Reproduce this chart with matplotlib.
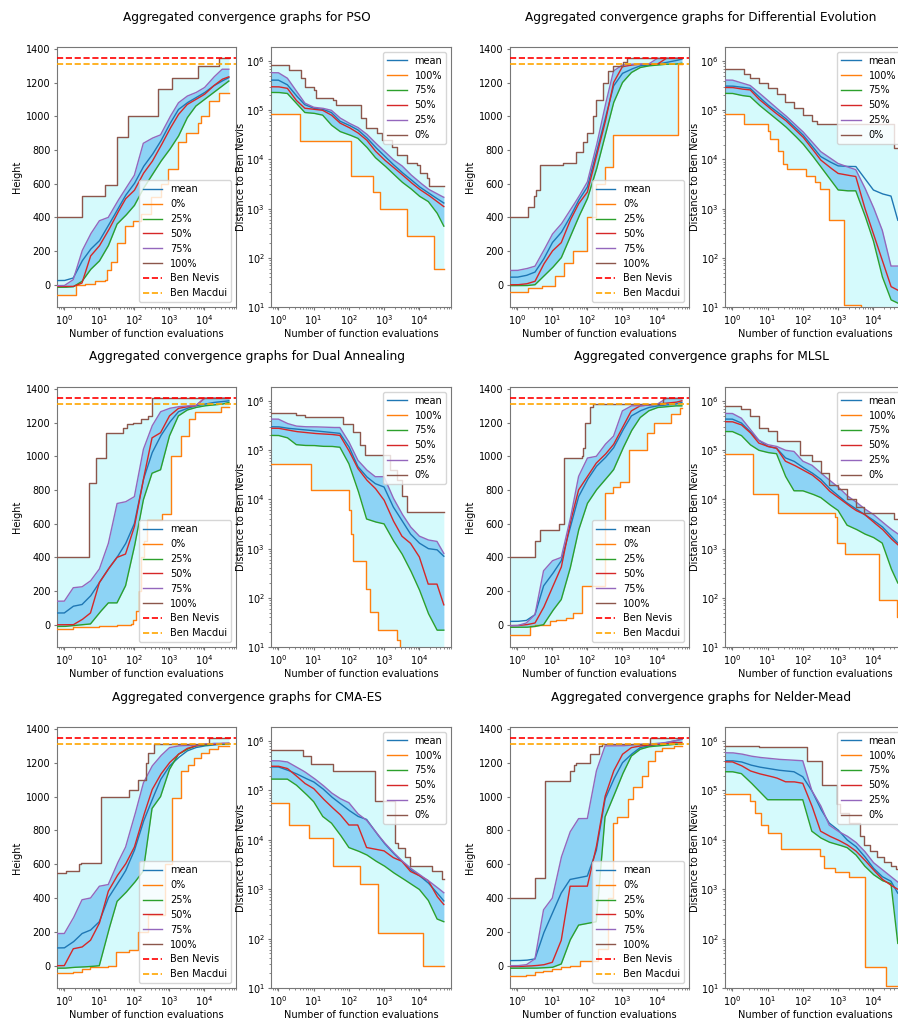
import numpy as np
import matplotlib
matplotlib.use("Agg")
import matplotlib.pyplot as plt

# ---------------------------------------------------------------- data
# common x grid (function evaluations) for the mean / inner-quantile curves
GRID = [0.6, 1, 1.8, 3.2, 5.6, 10, 18, 32, 56, 100, 180, 320, 560, 1000,
        1800, 3200, 5600, 10000, 18000, 32000, 50000]
X_END = 50000
BEN_NEVIS = 1345
BEN_MACDUI = 1309

ALGORITHMS = ["PSO", "Differential Evolution", "Dual Annealing", "MLSL",
              "CMA-ES", "Nelder-Mead"]
HEIGHT_LABELS = ["mean", "0%", "25%", "50%", "75%", "100%"]
DIST_LABELS = ["mean", "100%", "75%", "50%", "25%", "0%"]

# Extreme curves are step functions given as (x breakpoints, y values)
PSO_HEIGHT = {
    "mean": [25, 25, 40, 140, 210, 260, 350, 440, 530, 600, 700, 770, 850, 950, 1040, 1080, 1110, 1140, 1180, 1210, 1230],
    "25%": [-15, -15, -12, 20, 90, 140, 230, 360, 410, 470, 570, 650, 730, 800, 880, 990, 1060, 1100, 1140, 1180, 1210],
    "50%": [-10, -10, -10, 10, 170, 230, 320, 420, 510, 560, 660, 730, 820, 920, 1010, 1070, 1100, 1130, 1180, 1220, 1235],
    "75%": [-5, -5, 30, 200, 300, 380, 400, 490, 570, 650, 840, 870, 890, 990, 1080, 1120, 1140, 1170, 1230, 1280, 1280],
    "0%": ([0.6, 2.1, 4, 7.6, 15, 17, 22, 33, 54, 93, 155, 300, 570, 890, 1740, 2950, 6500, 8000, 14000, 27000],
           [-60, 0, 5, 25, 30, 90, 135, 250, 350, 380, 420, 520, 600, 690, 850, 900, 960, 1000, 1090, 1140]),
    "100%": ([0.6, 3.2, 15, 32, 65, 490, 1230, 6500, 27000],
             [400, 525, 590, 880, 1000, 1160, 1230, 1300, 1345]),
}
PSO_DIST = {
    "mean": [4.1e5, 4.1e5, 3.3e5, 2e5, 1.3e5, 1.1e5, 1.05e5, 9e4, 6e4, 5e4, 4e4, 2.8e4, 1.8e4, 1.2e4, 8e3, 5.5e3, 4e3, 2.8e3, 2.1e3, 1.6e3, 1.3e3],
    "75%": [2.3e5, 2.3e5, 2.2e5, 1.4e5, 9e4, 8.7e4, 8e4, 5e4, 3.7e4, 3.2e4, 2.7e4, 1.8e4, 1.1e4, 7.7e3, 5.2e3, 3.5e3, 2.6e3, 1.8e3, 1.4e3, 8.2e2, 4.4e2],
    "50%": [3e5, 3e5, 2.8e5, 1.6e5, 1.1e5, 1.05e5, 1e5, 8e4, 5.5e4, 4.5e4, 3.5e4, 2.5e4, 1.5e4, 1e4, 7e3, 5e3, 3.5e3, 2.5e3, 1.9e3, 1.4e3, 1.1e3],
    "25%": [5.8e5, 5.8e5, 4.5e5, 2.5e5, 1.4e5, 1.15e5, 1.1e5, 1e5, 7e4, 5.5e4, 4.5e4, 3.3e4, 2.2e4, 1.5e4, 1e4, 7.5e3, 5e3, 3.5e3, 2.5e3, 2e3, 1.7e3],
    "0%": ([0.6, 2, 4.4, 5.6, 10.5, 11.7, 35, 44, 229, 316, 616, 851, 1660, 2290, 4470, 8510, 10700, 16600, 18600],
           [8.2e5, 6.6e5, 4.6e5, 2.9e5, 2.6e5, 1.8e5, 1.6e5, 1.27e5, 6.9e4, 4.3e4, 3.4e4, 2.5e4, 1.8e4, 1.25e4, 8.3e3, 7.7e3, 5.2e3, 4.2e3, 2.9e3]),
    "100%": ([0.6, 4.2, 117, 490, 760, 4470, 25700],
             [8.3e4, 2.4e4, 4.5e3, 2.2e3, 9.6e2, 2.8e2, 5.9e1]),
}

DE_HEIGHT = {
    "mean": [45, 45, 55, 75, 150, 250, 310, 400, 500, 580, 780, 980, 1180, 1255, 1280, 1300, 1305, 1310, 1320, 1330, 1340],
    "25%": [-5, -5, -5, 0, 50, 100, 160, 280, 400, 510, 680, 880, 1080, 1200, 1260, 1290, 1300, 1305, 1310, 1310, 1315],
    "50%": [0, 0, 5, 20, 120, 200, 250, 380, 480, 550, 760, 960, 1200, 1295, 1305, 1310, 1310, 1310, 1345, 1345, 1345],
    "75%": [85, 85, 95, 110, 200, 300, 360, 440, 520, 610, 820, 1060, 1270, 1305, 1310, 1310, 1310, 1345, 1345, 1345, 1345],
    "0%": ([0.6, 2, 5, 11.7, 21, 38, 95, 182, 316, 550, 40000],
           [-40, -20, -10, 50, 130, 200, 400, 600, 700, 890, 1310]),
    "100%": ([0.6, 2, 3, 3.5, 4.4, 20, 49, 76, 95, 147, 182, 282, 400, 550, 1070, 1320],
             [400, 460, 530, 560, 710, 725, 790, 850, 900, 1000, 1100, 1200, 1270, 1300, 1320, 1345]),
}
DE_DIST = {
    "mean": [3.1e5, 3.1e5, 2.95e5, 2.8e5, 1.9e5, 1.3e5, 9.5e4, 6.9e4, 4.7e4, 3.2e4, 1.9e4, 1.15e4, 9.1e3, 7.4e3, 7.2e3, 7.2e3, 4.2e3, 2.4e3, 2e3, 1.8e3, 5.8e2],
    "75%": [2.2e5, 2.2e5, 2e5, 1.9e5, 1.3e5, 9.3e4, 6.6e4, 4.7e4, 3.2e4, 2.1e4, 1.25e4, 7.2e3, 4.2e3, 2.4e3, 2.3e3, 2.3e3, 7.9e2, 2.3e2, 42, 14, 12],
    "50%": [2.9e5, 2.9e5, 2.7e5, 2.6e5, 1.7e5, 1.2e5, 8.5e4, 6.3e4, 4.3e4, 2.9e4, 1.7e4, 9.8e3, 7.1e3, 5.2e3, 4.8e3, 4.5e3, 1.1e3, 3.2e2, 91, 26, 22],
    "25%": [4.1e5, 4.1e5, 3.6e5, 3.2e5, 2.3e5, 1.6e5, 1.1e5, 7.9e4, 5.4e4, 3.7e4, 2.3e4, 1.45e4, 1.1e4, 8.3e3, 7.1e3, 6.2e3, 2.8e3, 1.1e3, 3.7e2, 68, 68],
    "0%": ([0.6, 2.2, 3.2, 5.6, 10, 18, 32, 56, 100, 180, 250, 40000],
           [7e5, 5.5e5, 4.5e5, 3.6e5, 2.8e5, 2.1e5, 1.5e5, 1.1e5, 8e4, 6e4, 5.2e4, 1.7e4]),
    "100%": ([0.6, 2.2, 10, 11.5, 20, 28, 35, 126, 220, 310, 550, 1450, 4470],
             [8.5e4, 5.3e4, 3.8e4, 2.6e4, 1.5e4, 8e3, 6.3e3, 4.5e3, 3.5e3, 2.5e3, 5.8e2, 11, 9]),
}

DA_HEIGHT = {
    "mean": [70, 70, 110, 120, 170, 250, 330, 400, 480, 600, 860, 1020, 1120, 1200, 1265, 1285, 1300, 1310, 1320, 1325, 1330],
    "25%": [-10, -10, -5, 0, 5, 70, 130, 130, 230, 460, 740, 900, 920, 1120, 1240, 1275, 1290, 1300, 1305, 1310, 1320],
    "50%": [0, 0, 0, 30, 70, 250, 330, 400, 420, 580, 860, 1110, 1140, 1240, 1285, 1295, 1300, 1345, 1345, 1345, 1345],
    "75%": [140, 140, 220, 225, 260, 330, 480, 720, 730, 760, 1040, 1180, 1265, 1285, 1295, 1300, 1300, 1345, 1345, 1345, 1345],
    "0%": ([0.6, 1.8, 10, 32, 80, 90, 112, 140, 160, 186, 224, 600, 1100, 2140, 3700, 5250, 30000],
           [-25, -15, -10, 0, 5, 30, 80, 200, 400, 500, 620, 660, 1000, 1120, 1220, 1265, 1295]),
    "100%": ([0.6, 5, 7.9, 16, 46, 63, 89, 155, 245, 330],
             [400, 840, 990, 1140, 1170, 1190, 1200, 1220, 1240, 1345]),
}
DA_DIST = {
    "mean": [3e5, 3e5, 2.8e5, 2.7e5, 2.6e5, 2.5e5, 2.4e5, 2.3e5, 2.2e5, 1.2e5, 4.7e4, 2.9e4, 2.1e4, 1.8e4, 7.2e3, 3.8e3, 2e3, 1.3e3, 1e3, 9.5e2, 7e2],
    "75%": [2e5, 2e5, 1.8e5, 1.3e5, 1.25e5, 1.25e5, 1.2e5, 1.2e5, 1.15e5, 5.4e4, 1.6e4, 4e3, 3.5e3, 3.2e3, 1.5e3, 8e2, 3.7e2, 1.5e2, 49, 22, 22],
    "50%": [2.8e5, 2.8e5, 2.6e5, 2.4e5, 2.3e5, 2.2e5, 2.15e5, 2.1e5, 2e5, 1e5, 4.3e4, 2.5e4, 1.7e4, 9.8e3, 3.8e3, 1.8e3, 1.3e3, 6.9e2, 1.9e2, 1.9e2, 72],
    "25%": [4.3e5, 4.3e5, 3.5e5, 3.1e5, 3e5, 3e5, 2.95e5, 2.9e5, 2.9e5, 1.5e5, 6.3e4, 4e4, 2.9e4, 2.9e4, 1.1e4, 5.2e3, 2.8e3, 1.8e3, 1.5e3, 1.4e3, 8e2],
    "0%": ([0.6, 3.2, 5.6, 68, 132, 204, 282, 1480, 2290, 3160, 4470],
           [5.8e5, 5.3e5, 4.8e5, 3.4e5, 2.3e5, 1.3e5, 8e4, 4e4, 2.5e4, 1.2e4, 5.5e3]),
    "100%": ([0.6, 8.5, 105, 117, 132, 316, 400, 690, 2290, 2880],
             [5.3e4, 1.55e4, 6e3, 2e3, 5.6e2, 1.5e2, 52, 22, 14, 8]),
}

MLSL_HEIGHT = {
    "mean": [20, 20, 25, 60, 230, 300, 380, 570, 760, 860, 940, 990, 1050, 1150, 1240, 1270, 1290, 1300, 1305, 1310, 1320],
    "25%": [-15, -15, -15, -10, 0, 80, 150, 330, 560, 720, 800, 860, 920, 1040, 1150, 1230, 1270, 1290, 1295, 1300, 1300],
    "50%": [-5, -5, 0, 10, 100, 220, 340, 600, 800, 880, 960, 1010, 1070, 1170, 1270, 1300, 1305, 1310, 1315, 1320, 1330],
    "75%": [-5, -5, 10, 60, 320, 380, 400, 620, 880, 990, 1000, 1070, 1120, 1270, 1300, 1300, 1305, 1310, 1345, 1345, 1345],
    "0%": ([0.6, 2.3, 3.2, 8.5, 12.6, 25, 40, 71, 330, 550, 850, 1580, 5100, 7900, 25000, 45000],
           [-60, -10, 0, 20, 30, 40, 70, 230, 780, 820, 850, 1040, 1140, 1200, 1250, 1290]),
    "100%": ([0.6, 3.2, 4.4, 16, 21, 69, 76, 85, 117, 145, 14800],
             [400, 500, 560, 600, 990, 1000, 1050, 1200, 1295, 1310, 1345]),
}
MLSL_DIST = {
    "mean": [4.3e5, 4.3e5, 3.6e5, 2.4e5, 1.6e5, 1.2e5, 1.1e5, 7e4, 6e4, 4.5e4, 3.5e4, 2.6e4, 1.7e4, 1.2e4, 8.5e3, 6.5e3, 5e3, 3.8e3, 2.8e3, 1.8e3, 1.3e3],
    "75%": [2.4e5, 2.4e5, 2e5, 1.3e5, 1e5, 9e4, 8.5e4, 3e4, 1.5e4, 1.5e4, 1.3e4, 1.1e4, 8e3, 6e3, 3e3, 2.5e3, 2e3, 1.7e3, 1.3e3, 4e2, 2e2],
    "50%": [3.8e5, 3.8e5, 3.3e5, 2.3e5, 1.4e5, 1.2e5, 1.1e5, 6e4, 5e4, 4e4, 3.2e4, 2.3e4, 1.5e4, 1.1e4, 8e3, 6e3, 5e3, 3.5e3, 2.5e3, 1.6e3, 1.2e3],
    "25%": [5.6e5, 5.6e5, 4.5e5, 2.7e5, 1.6e5, 1.3e5, 1.2e5, 1e5, 9.5e4, 6e4, 5e4, 3.5e4, 2.5e4, 1.8e4, 1.2e4, 9e3, 6.5e3, 5e3, 3.5e3, 2.5e3, 2e3],
    "0%": ([0.6, 1.8, 3.2, 5.6, 10, 18, 83, 180, 320, 560, 1000, 1800, 3200, 5600, 40000],
           [8e5, 7e5, 5e5, 2.8e5, 2.5e5, 1.55e5, 8e4, 6e4, 3.5e4, 2e4, 1.6e4, 1e4, 7e3, 5.3e3, 4e3]),
    "100%": ([0.6, 3.8, 20, 830, 930, 1580, 14500, 47000],
             [8.5e4, 1.27e4, 5.3e3, 4.3e3, 1.3e3, 7.8e2, 90, 40]),
}

CMA_HEIGHT = {
    "mean": [105, 105, 140, 190, 210, 260, 400, 480, 560, 680, 850, 980, 1100, 1180, 1230, 1270, 1290, 1300, 1305, 1310, 1315],
    "25%": [-15, -15, -10, -8, -5, 0, 200, 380, 430, 490, 560, 930, 1000, 1160, 1250, 1280, 1300, 1305, 1310, 1310, 1310],
    "50%": [0, 0, 100, 110, 150, 250, 440, 530, 600, 700, 880, 1040, 1130, 1200, 1250, 1285, 1300, 1310, 1310, 1315, 1315],
    "75%": [190, 190, 280, 390, 400, 470, 480, 600, 700, 880, 1080, 1180, 1240, 1290, 1300, 1302, 1305, 1310, 1315, 1315, 1315],
    "0%": ([0.6, 1.8, 3.2, 5.6, 10, 18, 30, 71, 130, 250, 760, 1230, 2140, 3300, 5150, 8000, 13900, 24000],
           [-45, -40, -20, -10, -5, 0, 80, 90, 200, 300, 600, 990, 1150, 1185, 1230, 1260, 1280, 1300]),
    "100%": ([0.6, 1.1, 2.6, 3, 11.5, 71, 126, 210, 240, 360, 13800],
             [550, 560, 600, 610, 1000, 1040, 1100, 1200, 1260, 1310, 1345]),
}
CMA_DIST = {
    "mean": [3e5, 3e5, 2.6e5, 2.2e5, 1.8e5, 1.5e5, 1.1e5, 7.5e4, 5.5e4, 4e4, 3e4, 2.6e4, 1.5e4, 8.7e3, 5.5e3, 3.7e3, 2.5e3, 1.9e3, 1.35e3, 8.5e2, 5.8e2],
    "75%": [1.7e5, 1.7e5, 1.7e5, 1.3e5, 9e4, 6e4, 3e4, 2.2e4, 1.3e4, 7e3, 6e3, 5e3, 3.8e3, 3e3, 2.2e3, 1.7e3, 1.3e3, 1e3, 6e2, 2.5e2, 2.2e2],
    "50%": [3.1e5, 3.1e5, 2.8e5, 2e5, 1.4e5, 1.1e5, 7e4, 4.7e4, 3.3e4, 2e4, 2e4, 7e3, 6.5e3, 6e3, 4.4e3, 3.7e3, 2.3e3, 1.9e3, 1.5e3, 7.2e2, 4.9e2],
    "25%": [4e5, 4e5, 3.8e5, 3e5, 2.4e5, 1.8e5, 1.3e5, 9e4, 6.9e4, 5.7e4, 3.4e4, 2.5e4, 1.5e4, 9e3, 5.7e3, 3.8e3, 2.7e3, 2e3, 1.5e3, 1.1e3, 8.5e2],
    "0%": ([0.6, 5, 8.5, 35, 550, 2040, 2500, 4000, 5500, 23000, 44000],
           [6.5e5, 5e5, 3.5e5, 2.5e5, 6e4, 8.7e3, 7e3, 4.5e3, 3e3, 2.3e3, 1.6e3]),
    "100%": ([0.6, 2, 7.6, 35, 204, 690, 13200],
             [5.5e4, 2e4, 1.1e4, 3e3, 1.3e3, 1.3e2, 28]),
}

NM_HEIGHT = {
    "mean": [30, 30, 32, 40, 190, 310, 430, 510, 520, 530, 680, 985, 1100, 1200, 1250, 1290, 1300, 1310, 1320, 1330, 1340],
    "25%": [-15, -15, -15, -15, -12, -10, 10, 150, 240, 250, 260, 880, 1000, 1130, 1240, 1280, 1295, 1300, 1305, 1310, 1310],
    "50%": [-5, -5, -3, 0, 5, 20, 150, 470, 470, 470, 700, 1000, 1150, 1250, 1290, 1300, 1305, 1310, 1315, 1320, 1320],
    "75%": [0, 0, 5, 40, 330, 400, 640, 790, 870, 870, 1150, 1300, 1300, 1300, 1305, 1310, 1310, 1315, 1320, 1330, 1340],
    "0%": ([0.6, 1.8, 3.2, 5.6, 10, 18, 32, 60, 200, 400, 550, 700, 1480, 2000, 3550, 5500, 8500, 13200, 29000],
           [-60, -55, -40, -30, -20, -5, 0, 30, 100, 400, 846, 880, 985, 1060, 1120, 1212, 1270, 1290, 1300]),
    "100%": ([0.6, 3.2, 6, 32, 41, 49, 117, 220, 255, 6200],
             [400, 520, 1090, 1150, 1190, 1200, 1250, 1300, 1310, 1345]),
}
NM_DIST = {
    "mean": [4e5, 4e5, 3.8e5, 3.3e5, 3e5, 2.8e5, 2.6e5, 2.5e5, 2.4e5, 1.9e5, 1e5, 4.3e4, 2.2e4, 1.6e4, 1e4, 7.4e3, 4.7e3, 2.7e3, 1.8e3, 1.45e3, 8.3e2],
    "75%": [2.4e5, 2.4e5, 2.2e5, 1.5e5, 1e5, 6.5e4, 6.5e4, 6.5e4, 6.5e4, 6.5e4, 1.5e4, 1.1e4, 9e3, 8e3, 7e3, 5e3, 3e3, 2e3, 1.5e3, 1.3e3, 80],
    "50%": [3.8e5, 3.8e5, 3.2e5, 2.5e5, 2.2e5, 2e5, 1.8e5, 1.5e5, 1.5e5, 1.4e5, 5e4, 1.5e4, 1.2e4, 1e4, 8e3, 6e3, 4e3, 2.5e3, 1.6e3, 1.2e3, 1e3],
    "25%": [5.8e5, 5.8e5, 5.5e5, 5e5, 4.7e5, 4.5e5, 4.3e5, 4.2e5, 4.1e5, 4e5, 1e5, 5e4, 2e4, 1.5e4, 1.2e4, 9e3, 6e3, 3.5e3, 2.5e3, 1.8e3, 1.4e3],
    "0%": ([0.6, 3.2, 5.6, 129, 347, 930, 1150, 2000, 4360, 5400, 8300, 13000, 20000, 31600, 44000],
           [8e5, 7.8e5, 7.5e5, 4e5, 1.3e5, 5.4e4, 3.5e4, 2.2e4, 1.2e4, 8e3, 6e3, 4.5e3, 3.5e3, 3e3, 2.6e3]),
    "100%": ([0.6, 3.1, 4.5, 6.6, 10.2, 24.5, 310, 410, 830, 2000, 6000, 22400],
             [8.5e4, 6e4, 3.5e4, 2e4, 1.4e4, 6.5e3, 4.7e3, 2.7e3, 2.2e3, 1.8e3, 27, 11]),
}

HEIGHT_DATA = [PSO_HEIGHT, DE_HEIGHT, DA_HEIGHT, MLSL_HEIGHT, CMA_HEIGHT, NM_HEIGHT]
DIST_DATA = [PSO_DIST, DE_DIST, DA_DIST, MLSL_DIST, CMA_DIST, NM_DIST]

# ---------------------------------------------------------------- style
OUTER_FILL = "#d5fafc"
INNER_FILL = "#8dd3f5"
SPINE = "#777777"
FS = 7
plt.rcParams.update({
    "font.size": FS,
    "axes.edgecolor": SPINE,
    "axes.linewidth": 0.8,
    "xtick.color": SPINE,
    "ytick.color": SPINE,
    "xtick.labelcolor": "black",
    "ytick.labelcolor": "black",
    "xtick.labelsize": FS,
    "ytick.labelsize": FS,
    "xtick.major.size": 2.5,
    "ytick.major.size": 2.5,
    "xtick.minor.size": 1.4,
    "ytick.minor.size": 1.4,
    "xtick.major.pad": 2.0,
    "ytick.major.pad": 2.0,
    "xtick.minor.pad": 2.0,
    "ytick.minor.pad": 2.0,
    "axes.labelsize": FS,
    "axes.labelpad": 2.5,
    "legend.fontsize": FS,
})

W, H = 898, 1019
fig = plt.figure(figsize=(W / 100, H / 100), dpi=100)


def add_ax(l, t, r, b):
    return fig.add_axes([l / W, 1 - b / H, (r - l) / W, (b - t) / H])


def step_eval(xs, ys, xq):
    xs = np.asarray(xs, float)
    ys = np.asarray(ys, float)
    idx = np.clip(np.searchsorted(xs, xq, side="right") - 1, 0, len(xs) - 1)
    return ys[idx]


def smooth_eval(vals, xq, logy):
    lg = np.log10(GRID)
    v = np.asarray(vals, float)
    if logy:
        return 10 ** np.interp(np.log10(xq), lg, np.log10(v))
    return np.interp(np.log10(xq), lg, v)


def draw_panel(ax, data, labels, logy, lo_key, hi_key, ilo_key, ihi_key):
    bps = np.concatenate([data[lo_key][0], data[hi_key][0]])
    xq = np.unique(np.concatenate([np.geomspace(GRID[0], X_END, 1500), bps]))
    lo = step_eval(*data[lo_key], xq)
    hi = step_eval(*data[hi_key], xq)
    ilo = smooth_eval(data[ilo_key], xq, logy)
    ihi = smooth_eval(data[ihi_key], xq, logy)
    ax.fill_between(xq, lo, hi, color=OUTER_FILL, lw=0, zorder=1)
    ax.fill_between(xq, ilo, ihi, color=INNER_FILL, lw=0, zorder=1.5)
    for i, lab in enumerate(labels):
        col = "C%d" % i
        d = data[lab]
        if isinstance(d, tuple):
            xs = list(d[0]) + [X_END]
            ys = list(d[1]) + [d[1][-1]]
            ax.step(xs, ys, where="post", color=col, lw=1.0, label=lab, zorder=3)
        else:
            ax.plot(xq, smooth_eval(d, xq, logy), color=col, lw=1.0, label=lab, zorder=3)
    ax.set_xscale("log")
    ax.set_xlim(0.62, 80000)
    ax.set_xlabel("Number of function evaluations", labelpad=1.5)


COLS = [((57, 236), (271, 451)), ((510, 689), (725, 905))]
ROWS = [(47, 307), (387, 647), (727, 988)]
TITLE_Y = [17, 357, 698]
TITLE_X = [247, 701]

for k, name in enumerate(ALGORITHMS):
    r, c = divmod(k, 2)
    t, b = ROWS[r]
    (hl, hr), (dl, dr) = COLS[c]
    fig.text(TITLE_X[c] / W, 1 - TITLE_Y[r] / H,
             "Aggregated convergence graphs for " + name,
             ha="center", va="center", fontsize=8.7)

    axh = add_ax(hl, t, hr, b)
    draw_panel(axh, HEIGHT_DATA[k], HEIGHT_LABELS, False, "0%", "100%", "25%", "75%")
    axh.axhline(BEN_NEVIS, color="red", ls="--", lw=1.2, label="Ben Nevis", zorder=3)
    axh.axhline(BEN_MACDUI, color="orange", ls="--", lw=1.2, label="Ben Macdui", zorder=3)
    axh.set_ylim(-132, 1412)
    axh.set_yticks([0, 200, 400, 600, 800, 1000, 1200, 1400])
    axh.set_ylabel("Height", labelpad=3)
    axh.legend(loc="lower right", handlelength=2.0, labelspacing=0.5)

    axd = add_ax(dl, t, dr, b)
    draw_panel(axd, DIST_DATA[k], DIST_LABELS, True, "100%", "0%", "75%", "25%")
    axd.set_yscale("log")
    axd.set_ylim(10, 1.93e6)
    axd.set_ylabel("Distance to Ben Nevis", labelpad=0)
    axd.legend(loc="upper right", handlelength=2.0, labelspacing=0.5)

fig.savefig("out.png", dpi=100)
